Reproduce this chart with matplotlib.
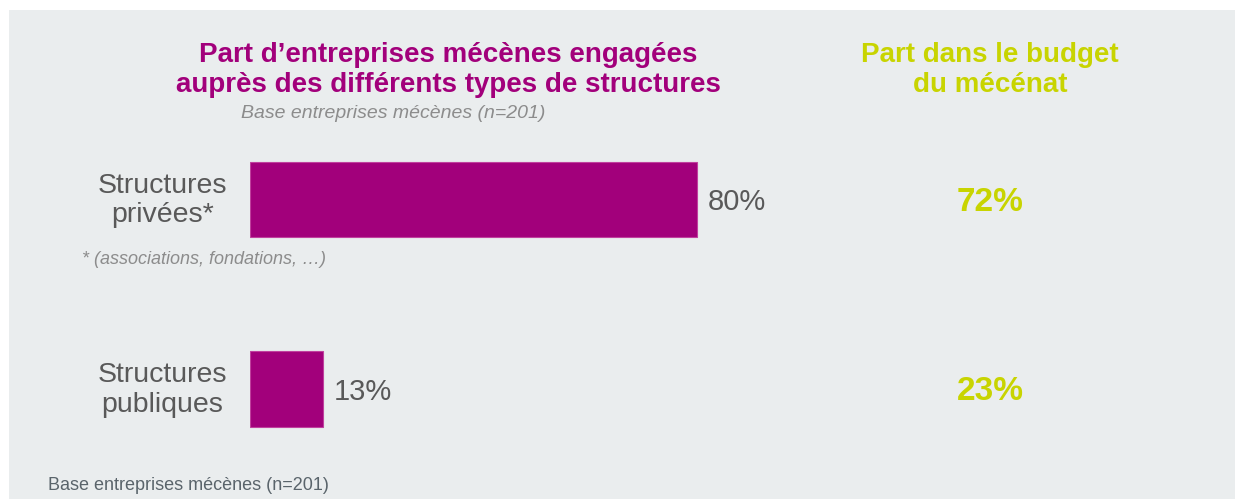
import matplotlib
matplotlib.use("Agg")
import matplotlib.pyplot as plt
from matplotlib.patches import Rectangle
from matplotlib.transforms import blended_transform_factory

# ---- data ----
categories = ["Structures\nprivées*", "Structures\npubliques"]
share_companies = [80, 13]          # % of sponsoring companies
share_budget = [72, 23]             # % of the sponsorship budget
title_left = "Part d\u2019entreprises mécènes engagées\nauprès des différents types de structures"
subtitle_left = "Base entreprises mécènes (n=201)"
title_right = "Part dans le budget\ndu mécénat"
footnote = "* (associations, fondations, \u2026)"
source = "Base entreprises mécènes (n=201)"

MAGENTA = "#A2007B"
LIME = "#C8D400"
GRAY = "#595959"
LIGHTGRAY = "#8C8C8C"
BG = "#EAEDEE"

plt.rcParams['font.family'] = ['Liberation Sans', 'DejaVu Sans']

W, H = 1236, 499
fig = plt.figure(figsize=(W / 100, H / 100), dpi=100)
fig.patch.set_facecolor("white")

def fx(px):
    return px / W

def fy(py):
    return 1 - py / H

# background panel
fig.patches.append(Rectangle((fx(9), 0), fx(1235) - fx(9), fy(10), transform=fig.transFigure,
                             facecolor=BG, edgecolor="none", zorder=-10))

# main bar axes: pixels x 250..1100, y 150..440
ax = fig.add_axes([fx(250), fy(440), fx(1100) - fx(250), (440 - 150) / H])
ax.set_zorder(5)
ax.set_facecolor("none")
px_per_pct = 5.59
ax.set_xlim(0, 850 / px_per_pct)
gap = 189.5
ax.set_ylim((440 - 199.5) / gap, (150 - 199.5) / gap)
ypos = list(range(len(categories)))
ax.barh(ypos, share_companies, height=0.40, color=MAGENTA, edgecolor="#C0409E", linewidth=0.8)
ax.axis("off")

for i, (cat, v) in enumerate(zip(categories, share_companies)):
    ax.annotate(cat, xy=(0, i), xytext=(-23, -1), textcoords="offset pixels",
                ha="right", va="center", ma="center", fontsize=20.5, color=GRAY,
                linespacing=1.18, annotation_clip=False)
    ax.annotate(f"{v}%", xy=(v, i), xytext=(11, -3), textcoords="offset pixels",
                ha="left", va="center", fontsize=21, color=GRAY, annotation_clip=False)

tr = blended_transform_factory(fig.transFigure, ax.transData)
for i, v in enumerate(share_budget):
    ax.annotate(f"{v}%", xy=(fx(990), i), xycoords=tr, xytext=(0, -3),
                textcoords="offset pixels", ha="center", va="center",
                fontsize=24, fontweight="bold", color=LIME, annotation_clip=False)

# titles
fig.text(fx(448), fy(70), title_left, ha="center", va="center", ma="center",
         fontsize=20, fontweight="bold", color=MAGENTA, linespacing=1.2)
fig.text(fx(393), fy(113), subtitle_left, ha="center", va="center",
         fontsize=14, fontstyle="italic", color=LIGHTGRAY)
fig.text(fx(990), fy(70), title_right, ha="center", va="center", ma="center",
         fontsize=20, fontweight="bold", color=LIME, linespacing=1.2)

fig.text(fx(82), fy(259), footnote, ha="left", va="center",
         fontsize=13, fontstyle="italic", color=LIGHTGRAY)
fig.text(fx(48), fy(486), source, ha="left", va="center",
         fontsize=13, color="#5A646B")

fig.savefig("out.png", dpi=100, facecolor=fig.get_facecolor())
